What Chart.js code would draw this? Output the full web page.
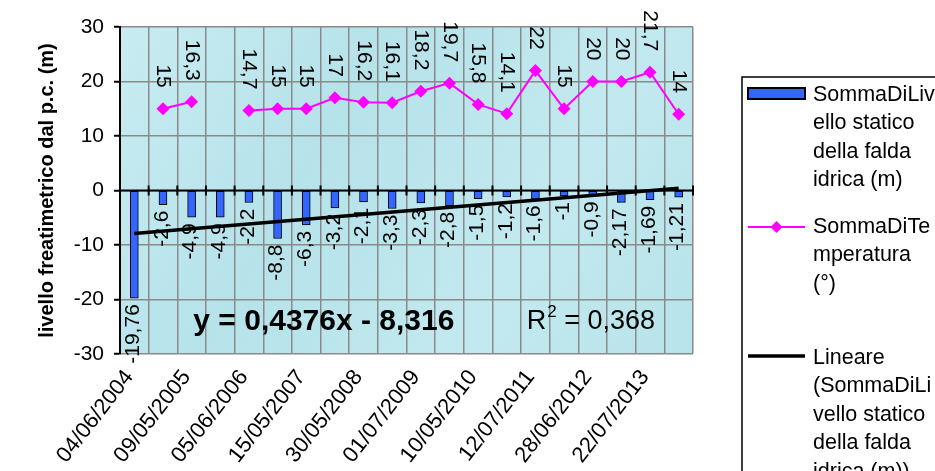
<!DOCTYPE html>
<html>
<head>
<meta charset="utf-8">
<script src="https://cdn.jsdelivr.net/npm/chart.js@4.4.0/dist/chart.umd.min.js"></script>
<style>
  html, body { margin: 0; padding: 0; background: #fff; }
  #wrap { width: 935px; height: 471px; }
</style>
</head>
<body>
<div id="wrap"><canvas id="livelloChart" width="935" height="471"></canvas></div>
<script>
// only every other date is printed on the axis; the others are not readable
const categories = ['04/06/2004', '', '09/05/2005', '', '05/06/2006', '', '15/05/2007', '', '30/05/2008', '',
                    '01/07/2009', '', '10/05/2010', '', '12/07/2011', '', '28/06/2012', '', '22/07/2013', ''];
const livello = [-19.76, -2.6, -4.9, -4.9, -2.2, -8.8, -6.3, -3.2, -2.1, -3.3,
                 -2.3, -2.8, -1.5, -1.2, -1.6, -1, -0.9, -2.17, -1.69, -1.21];
const temperatura = [null, 15, 16.3, null, 14.7, 15, 15, 17, 16.2, 16.1,
                     18.2, 19.7, 15.8, 14.1, 22, 15, 20, 20, 21.7, 14];
// trend line ends
const trendStart = -7.9;
const trendEnd = 0.4;
const yTicks = [-30, -20, -10, 0, 10, 20, 30];
const equationText = 'y = 0,4376x - 8,316';
const r2Value = '0,368';

const FONT = 'Arial, "Liberation Sans", sans-serif';
const trend = categories.map((c, i) => i === 0 ? trendStart : (i === categories.length - 1 ? trendEnd : null));
const fmt = v => String(v).replace('.', ',');

const plotBackground = {
  id: 'plotBackground',
  beforeDraw(chart) {
    const { ctx, chartArea: a } = chart;
    ctx.save();
    const g = ctx.createLinearGradient(a.left, a.top, a.right, a.bottom);
    g.addColorStop(0, '#c8ecf2');
    g.addColorStop(0.35, '#b6e2ea');
    g.addColorStop(0.7, '#c2e9ef');
    g.addColorStop(1, '#b8e3ea');
    ctx.fillStyle = g;
    ctx.fillRect(a.left, a.top, a.right - a.left, a.bottom - a.top);
    ctx.restore();
  }
};

const zeroAxis = {
  id: 'zeroAxis',
  beforeDatasetsDraw(chart) {
    const { ctx, chartArea: a, scales } = chart;
    const y0 = scales.y.getPixelForValue(0);
    const n = categories.length;
    const step = (a.right - a.left) / n;
    ctx.save();
    ctx.strokeStyle = '#000';
    ctx.lineWidth = 2;
    ctx.beginPath();
    ctx.moveTo(a.left, y0);
    ctx.lineTo(a.right, y0);
    for (let i = 0; i <= n; i++) {
      const x = a.left + i * step;
      ctx.moveTo(x, y0 - 5);
      ctx.lineTo(x, y0 + 5);
    }
    ctx.stroke();
    ctx.restore();
  }
};

const valueLabels = {
  id: 'valueLabels',
  afterDatasetDraw(chart, args) {
    const ds = chart.data.datasets[args.index];
    if (!ds.labelSide) return;
    const { ctx } = chart;
    ctx.save();
    ctx.font = '21px ' + FONT;
    ctx.fillStyle = '#000';
    ctx.textBaseline = 'middle';
    ctx.textAlign = 'right';
    args.meta.data.forEach((el, i) => {
      const v = ds.data[i];
      if (v === null || v === undefined) return;
      ctx.save();
      if (ds.labelSide === 'below') {
        ctx.translate(el.x - 1, el.y + 6);
        ctx.rotate(-Math.PI / 2);
      } else {
        ctx.translate(el.x, el.y - 21);
        ctx.rotate(Math.PI / 2);
      }
      ctx.fillText(fmt(v), 0, 0);
      ctx.restore();
    });
    ctx.restore();
  }
};

const trendText = {
  id: 'trendText',
  afterDraw(chart) {
    const { ctx, chartArea: a } = chart;
    const yc = a.top + (a.bottom - a.top) * 0.902;
    ctx.save();
    ctx.fillStyle = '#000';
    ctx.textBaseline = 'middle';
    ctx.textAlign = 'left';
    ctx.font = 'bold 30px ' + FONT;
    ctx.fillText(equationText, a.left + (a.right - a.left) * 0.128, yc);
    let x = a.left + (a.right - a.left) * 0.71;
    ctx.font = '27px ' + FONT;
    ctx.fillText('R', x, yc);
    x += ctx.measureText('R').width;
    ctx.font = '17px ' + FONT;
    ctx.fillText('2', x + 1, yc - 10);
    x += ctx.measureText('2').width + 1;
    ctx.font = '27px ' + FONT;
    ctx.fillText(' = ' + r2Value, x, yc);
    ctx.restore();
  }
};

const sideLegend = {
  id: 'sideLegend',
  afterDraw(chart) {
    const { ctx } = chart;
    const left = 742, top = 77;
    const lh = 28.5;
    ctx.save();
    ctx.fillStyle = '#fff';
    ctx.fillRect(left, top, 200, 400);
    ctx.strokeStyle = '#000';
    ctx.lineWidth = 1.5;
    ctx.strokeRect(left, top, 200, 400);

    const sx = left + 6, ex = left + 63, tx = left + 71;
    // bars
    ctx.fillStyle = '#3366ff';
    ctx.fillRect(sx, top + 11, ex - sx, 11);
    ctx.lineWidth = 2;
    ctx.strokeRect(sx, top + 11, ex - sx, 11);
    // temperature line
    const ty = top + 150;
    ctx.strokeStyle = '#ff00ff';
    ctx.beginPath();
    ctx.moveTo(sx, ty);
    ctx.lineTo(ex, ty);
    ctx.stroke();
    ctx.fillStyle = '#ff00ff';
    const cx = (sx + ex) / 2;
    ctx.beginPath();
    ctx.moveTo(cx, ty - 6);
    ctx.lineTo(cx + 6, ty);
    ctx.lineTo(cx, ty + 6);
    ctx.lineTo(cx - 6, ty);
    ctx.closePath();
    ctx.fill();
    // trend line
    const ly = top + 279;
    ctx.strokeStyle = '#000';
    ctx.lineWidth = 3.5;
    ctx.beginPath();
    ctx.moveTo(sx, ly);
    ctx.lineTo(ex, ly);
    ctx.stroke();

    ctx.fillStyle = '#000';
    ctx.font = '21.5px ' + FONT;
    ctx.textBaseline = 'middle';
    ctx.textAlign = 'left';
    const blocks = [
      [top + 18, ['SommaDiLiv', 'ello statico', 'della falda', 'idrica (m)']],
      [ty, ['SommaDiTe', 'mperatura', '(°)']],
      [ly + 2, ['Lineare', '(SommaDiLi', 'vello statico', 'della falda', 'idrica (m))']]
    ];
    blocks.forEach(([y, lines]) => {
      lines.forEach((t, i) => ctx.fillText(t, tx, y + i * lh));
    });
    ctx.restore();
  }
};

new Chart(document.getElementById('livelloChart'), {
  type: 'bar',
  data: {
    labels: categories,
    datasets: [
      {
        type: 'line',
        label: 'Lineare (SommaDiLivello statico della falda idrica (m))',
        data: trend,
        borderColor: '#000',
        borderWidth: 3.5,
        pointRadius: 0,
        spanGaps: true,
        order: 0
      },
      {
        type: 'line',
        label: 'SommaDiTemperatura (°)',
        data: temperatura,
        borderColor: '#ff00ff',
        backgroundColor: '#ff00ff',
        borderWidth: 2,
        pointStyle: 'rectRot',
        pointRadius: 6.5,
        pointBorderWidth: 0,
        spanGaps: false,
        labelSide: 'above',
        order: 1
      },
      {
        label: 'SommaDiLivello statico della falda idrica (m)',
        data: livello,
        backgroundColor: '#3366ff',
        borderColor: '#000',
        borderWidth: 1,
        borderSkipped: false,
        barThickness: 8,
        labelSide: 'below',
        order: 2
      }
    ]
  },
  options: {
    responsive: false,
    animation: false,
    layout: { padding: { top: 27, right: 242, left: 0, bottom: 0 } },
    plugins: {
      legend: { display: false },
      tooltip: { enabled: false }
    },
    scales: {
      x: {
        offset: true,
        grid: { offset: true, color: '#8a8a8a', lineWidth: 1.5, drawTicks: false },
        border: { display: false },
        ticks: {
          autoSkip: false,
          maxRotation: 52,
          minRotation: 52,
          padding: 11,
          labelOffset: -5,
          color: '#000',
          font: { family: FONT, size: 22 },
          callback: (v, i) => categories[i]
        },
        afterFit(scale) { scale.height = 117; }
      },
      y: {
        min: -30,
        max: 30,
        afterBuildTicks(scale) { scale.ticks = yTicks.map(v => ({ value: v })); },
        grid: { color: '#8a8a8a', lineWidth: 1.5, tickColor: '#000', tickLength: 6, tickWidth: 2 },
        border: { color: '#000', width: 2 },
        ticks: { padding: 10, color: '#000', font: { family: FONT, size: 21 } },
        title: {
          display: true,
          text: 'livello freatimetrico dal p.c. (m)',
          color: '#000',
          font: { family: FONT, size: 20, weight: 'bold' },
          padding: { top: 35, bottom: 0 }
        },
        afterFit(scale) { scale.width = 120; }
      }
    }
  },
  plugins: [plotBackground, zeroAxis, valueLabels, trendText, sideLegend]
});
</script>
</body>
</html>
